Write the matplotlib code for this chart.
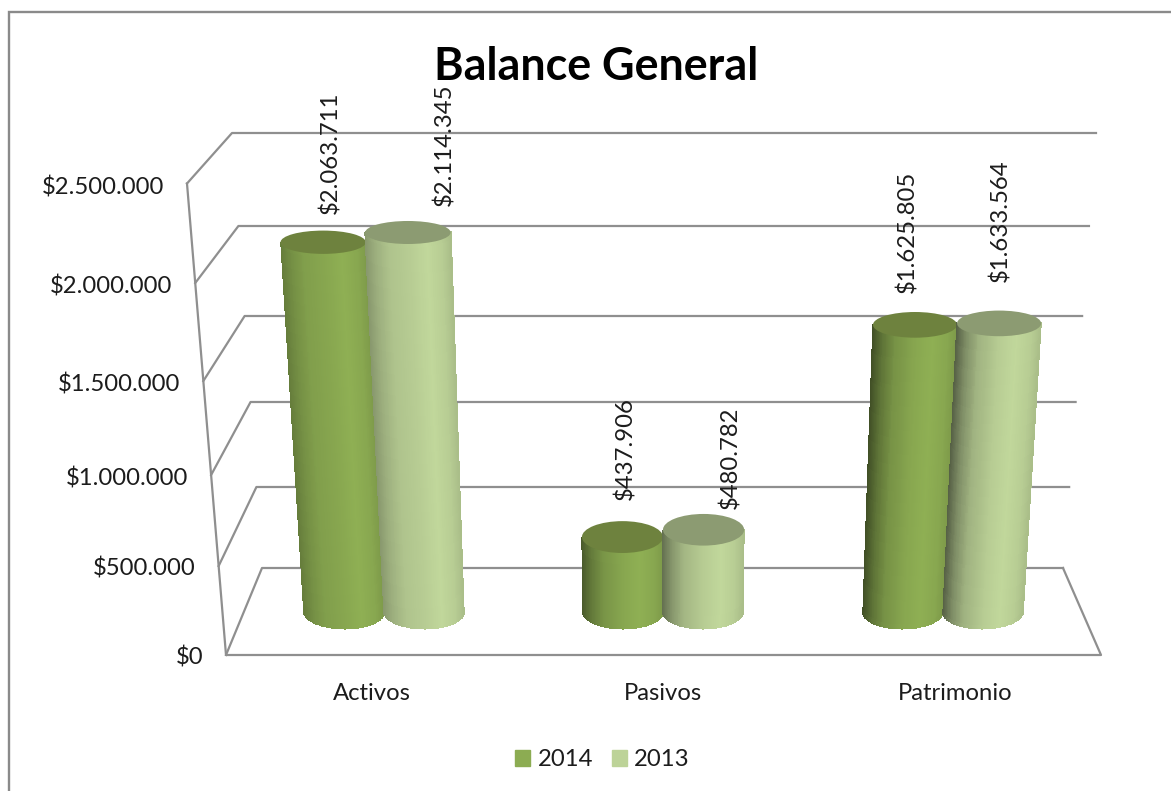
import numpy as np
import matplotlib
matplotlib.use('Agg')
import matplotlib.pyplot as plt
from matplotlib.colors import to_rgb
from matplotlib.patches import Ellipse, Patch

plt.rcParams['font.family'] = ['Lato', 'DejaVu Sans']

# Balance values
categories = ['Activos', 'Pasivos', 'Patrimonio']
years = ['2014', '2013']
values_2014 = [2063711, 437906, 1625805]
values_2013 = [2114345, 480782, 1633564]
tick_values = [0, 500000, 1000000, 1500000, 2000000, 2500000]

# 3D box geometry, canvas is in pixels with y going down
front_y = [655, 566, 475, 381, 283, 183.5]
back_y = [568, 487, 402, 316, 226, 133]
plane_y = [(f + b) / 2 for f, b in zip(front_y, back_y)]
floor_centre_y = 611.5
group_x = [384, 663, 943]
half_w = 40
txt_size = 17.2
txt_col = '#1c1c1c'

# perspective lines meet far below the chart
vp_x, vp_y = 665, 6300


def persp(x, y):
    return vp_x + (x - vp_x) * (vp_y - y) / (vp_y - floor_centre_y)


def val_to_y(v):
    return np.interp(v, tick_values, plane_y)


def ellipse_ry(y):
    return 17 - (floor_centre_y - y) * 0.0145


def money(v):
    return '$' + f'{v:,}'.replace(',', '.')


def front_x(y):
    return np.interp(y, [183.5, 655], [187, 226])


def cylinder(ax, xc, value, side, top, edge_dark, order):
    y_top = val_to_y(value)
    theta = np.linspace(-np.pi / 2, np.pi / 2, 121)
    u = np.sin(theta)
    ub = np.cos(theta)
    yb = floor_centre_y + ellipse_ry(floor_centre_y) * ub
    yt = y_top + ellipse_ry(y_top) * ub
    X = np.array([persp(xc + half_w * u, yt), persp(xc + half_w * u, yb)])
    Y = np.array([yt, yb])
    # shading across the body: dark left edge, highlight right of centre
    um = (u[:-1] + u[1:]) / 2
    base = np.array(to_rgb(side))
    factor = np.interp(um, [-1, -0.75, -0.45, 0.05, 0.45, 0.8, 1],
                       [edge_dark, edge_dark + (1 - edge_dark) * 0.4, edge_dark + (1 - edge_dark) * 0.72,
                        0.97, 1.02, 0.97, 0.9])
    C = np.clip(base[None, :] * factor[:, None], 0, 1)[None, :, :]
    ax.pcolormesh(X, Y, C, shading='flat', zorder=order, edgecolors='face', linewidth=0.2)
    cx = persp(xc, y_top)
    w = 2 * half_w * (persp(vp_x + 1, y_top) - vp_x)
    ax.add_patch(Ellipse((cx, y_top), w, 2 * ellipse_ry(y_top), fc=top, ec='none', zorder=order + 0.1))
    return cx, y_top


fig = plt.figure(figsize=(11.71, 7.91), dpi=100)
ax = fig.add_axes([0, 0, 1, 1])
ax.set_xlim(0, 1171)
ax.set_ylim(791, 0)
ax.axis('off')

# chart frame, only top and left show
line_col = '#8f8f8f'
ax.plot([9, 9, 1171], [791, 12, 12], color='#8a8a8a', lw=1.7, zorder=1, solid_joinstyle='miter')

# walls and floor
for f, b in zip(front_y, back_y):
    xl = np.interp(b, [133, 568], [232, 262])
    xr = np.interp(b, [133, 568], [1096, 1063])
    ax.plot([front_x(f), xl, xr], [f, b, b], color=line_col, lw=1.6, zorder=1)
ax.plot([187, 226, 1101, 1063], [183.5, 655, 655, 568], color=line_col, lw=1.6, zorder=1)

# cylinders
side_cols = ['#8cac52', '#bdd398']
top_cols = ['#6e823e', '#8c9b72']
edge_dark = [0.72, 0.52, 0.45]
label_dx = [[7, 36.5], [3, 27], [-8, 1]]
label_gap = [[28, 26.5], [37, 21], [32, 41]]

for i in range(3):
    for j, vals in enumerate([values_2014, values_2013]):
        xc = group_x[i] + (j * 2 - 1) * half_w
        cx, yt = cylinder(ax, xc, vals[i], side_cols[j], top_cols[j], edge_dark[i], 3 + i + j)
        ax.text(cx + label_dx[i][j], yt - label_gap[i][j], money(vals[i]), rotation=90,
                ha='center', va='bottom', fontsize=txt_size, color=txt_col, zorder=10)

# value axis labels
for v, f in zip(tick_values, front_y):
    ax.text(front_x(f) - 23, f + (655 - f) * 0.004 + 2.5, money(v), ha='right', va='center',
            fontsize=txt_size, color=txt_col)

# category labels
for c, x in zip(categories, group_x):
    ax.text(vp_x + (x - vp_x) * 1.043, 693, c, ha='center', va='center', fontsize=txt_size, color=txt_col)

ax.text(596, 67, 'Balance General', ha='center', va='center', fontsize=32.3, fontweight='bold', color='black')

handles = [Patch(color=side_cols[0], label=years[0]), Patch(color=side_cols[1], label=years[1])]
ax.legend(handles=handles, loc='center', bbox_to_anchor=(602.5, 760), bbox_transform=ax.transData, ncol=2,
          frameon=False, fontsize=txt_size, handlelength=0.62, handleheight=0.62, handletextpad=0.3,
          columnspacing=0.8, labelcolor=txt_col, borderpad=0)

fig.savefig('out.png', dpi=100)
